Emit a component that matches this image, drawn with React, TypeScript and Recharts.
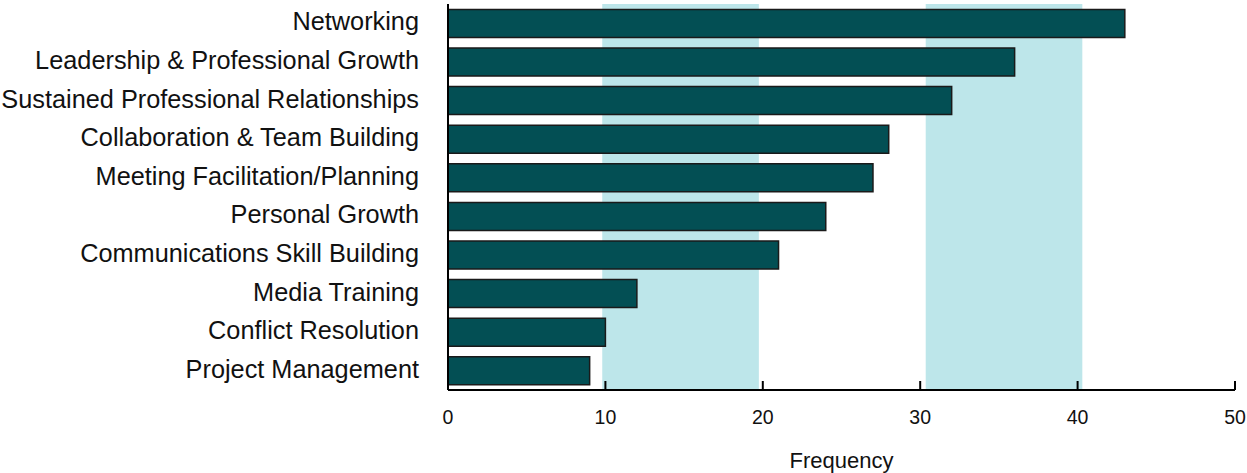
import React from 'react';
import { BarChart, Bar, XAxis, YAxis, ReferenceArea } from 'recharts';

const categories = [
  'Networking',
  'Leadership & Professional Growth',
  'Sustained Professional Relationships',
  'Collaboration & Team Building',
  'Meeting Facilitation/Planning',
  'Personal Growth',
  'Communications Skill Building',
  'Media Training',
  'Conflict Resolution',
  'Project Management',
];
const frequencies = [43, 36, 32, 28, 27, 24, 21, 12, 10, 9];
const xTicks = [0, 10, 20, 30, 40, 50];
const bandStarts = [9.8, 30.35];
const bandEnds = [19.75, 40.3];

const data = categories.map((name, i) => ({ name, value: frequencies[i] }));

const FONT = '"Liberation Sans", Arial, sans-serif';

const XTick = (props: any) => {
  const { x, y, payload } = props;
  return (
    <g>
      <line x1={x} x2={x} y1={y - 9} y2={y} stroke="#000" strokeWidth={2} />
      <text x={x} y={y + 34} textAnchor="middle" fontFamily={FONT} fontSize={19.5} fill="#111">
        {payload.value}
      </text>
    </g>
  );
};

const YTick = (props: any) => {
  const { x, y, payload } = props;
  return (
    <text x={x} y={y} dy={7} textAnchor="end" fontFamily={FONT} fontSize={25.3} fill="#111">
      {payload.value}
    </text>
  );
};

export default function App() {
  return (
    <div style={{ position: 'absolute', left: 0, top: 0, background: '#fff' }}>
      <BarChart
        width={1247}
        height={473}
        data={data}
        layout="vertical"
        barCategoryGap="14%"
        margin={{ top: 4, right: 12, bottom: 0, left: 0 }}
      >
        {bandStarts.map((s, i) => (
          <ReferenceArea key={i} x1={s} x2={bandEnds[i]} fill="#bde6ea" fillOpacity={1} stroke="none" />
        ))}
        <XAxis
          type="number"
          domain={[0, 50]}
          ticks={xTicks}
          height={83}
          axisLine={{ stroke: '#000', strokeWidth: 2 }}
          tickLine={false}
          tickSize={0}
          tickMargin={0}
          tick={<XTick />}
          label={{
            value: 'Frequency',
            position: 'insideBottom',
            offset: 5,
            fontFamily: FONT,
            fontSize: 22,
            fill: '#111',
          }}
        />
        <YAxis
          type="category"
          dataKey="name"
          width={448}
          axisLine={{ stroke: '#000', strokeWidth: 2 }}
          tickLine={false}
          tickSize={0}
          tickMargin={29}
          interval={0}
          tick={<YTick />}
        />
        <Bar dataKey="value" fill="#034f54" stroke="#1a1a1a" strokeWidth={1.5} isAnimationActive={false} />
      </BarChart>
    </div>
  );
}
